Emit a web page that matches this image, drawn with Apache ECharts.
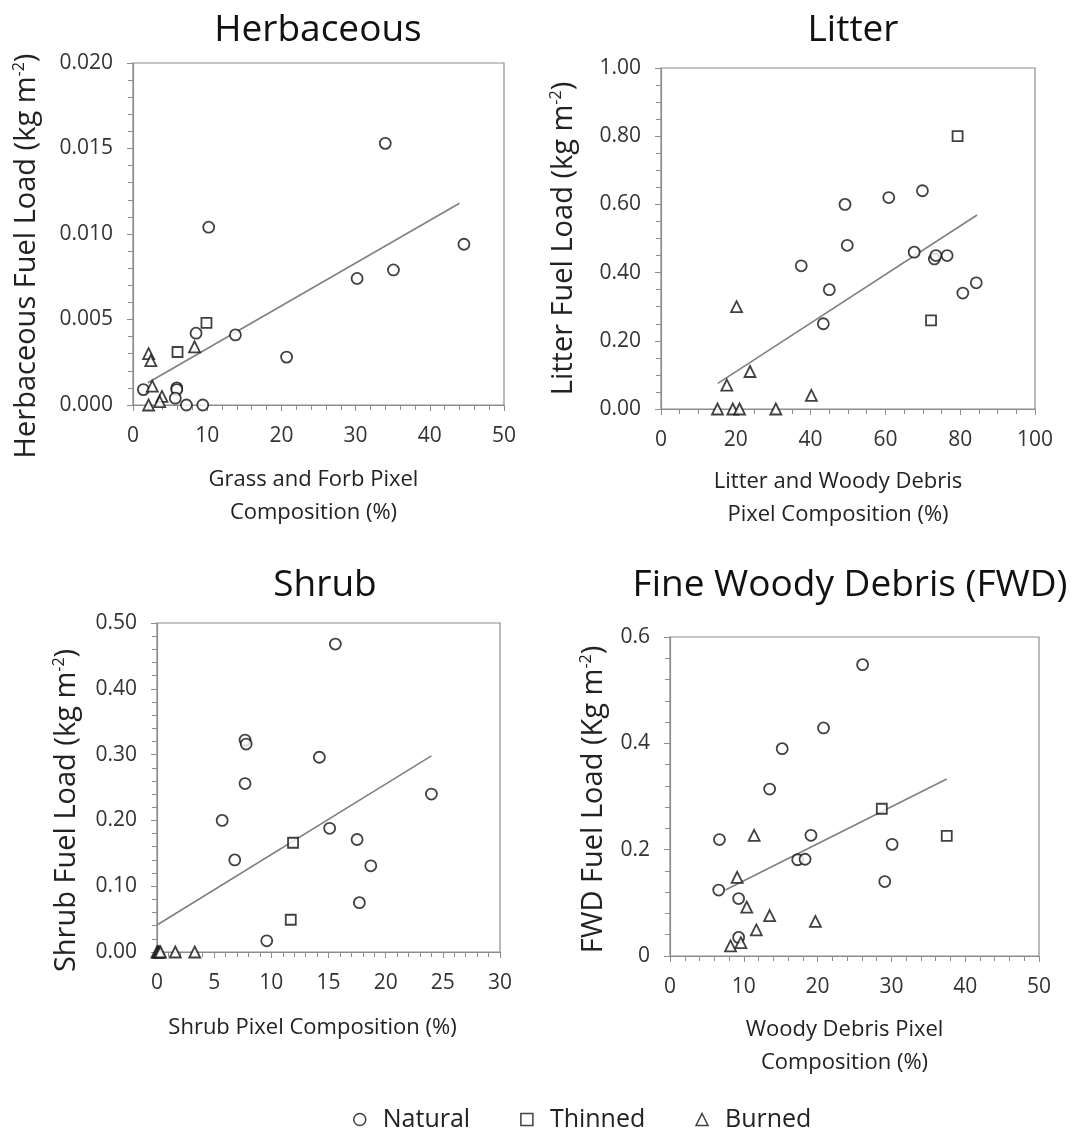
<!DOCTYPE html>
<html>
<head>
<meta charset="utf-8">
<script src="https://cdn.jsdelivr.net/npm/echarts@6/dist/echarts.min.js"></script>
<style>
  html, body { margin: 0; padding: 0; background: #fff; }
  #main { width: 1072px; height: 1133px; }
</style>
</head>
<body>
<div id="main"></div>
<script>
// Herbaceous panel
var herbNatural = [[34.0, 0.0153], [10.2, 0.0104], [44.6, 0.0094], [30.2, 0.0074], [35.1, 0.0079],
  [8.5, 0.0042], [13.8, 0.0041], [20.7, 0.0028], [1.4, 0.0009], [5.9, 0.0010], [5.9, 0.0009],
  [5.7, 0.0004], [7.2, 0], [9.4, 0]]
var herbThinned = [[9.9, 0.0048], [6.0, 0.0031]]
var herbBurned = [[2.1, 0.0030], [2.4, 0.0026], [8.3, 0.0034], [2.6, 0.0011], [2.1, 0], [3.9, 0.0005], [3.6, 0.0002]]
var herbTrend = [[2.0, 0.0013], [44.0, 0.0118]]

// Litter panel
var litterNatural = [[69.9, 0.64], [60.9, 0.62], [49.2, 0.60], [49.8, 0.48], [37.5, 0.42], [45.0, 0.35],
  [43.4, 0.25], [67.7, 0.46], [73.1, 0.44], [73.5, 0.45], [76.5, 0.45], [80.7, 0.34], [84.3, 0.37]]
var litterThinned = [[79.3, 0.80], [72.2, 0.26]]
var litterBurned = [[20.2, 0.30], [17.6, 0.07], [23.8, 0.11], [40.2, 0.04], [15.1, 0], [19.2, 0], [21.0, 0], [30.7, 0]]
var litterTrend = [[15.2, 0.075], [84.5, 0.569]]

// Shrub panel
var shrubNatural = [[15.6, 0.468], [7.7, 0.322], [7.8, 0.316], [14.2, 0.296], [7.7, 0.256], [5.7, 0.200],
  [24.0, 0.240], [15.1, 0.188], [17.5, 0.171], [6.8, 0.140], [18.7, 0.131], [17.7, 0.075], [9.6, 0.017]]
var shrubThinned = [[11.9, 0.166], [11.7, 0.049]]
var shrubBurned = [[0, 0], [0.1, 0], [0.2, 0], [0.3, 0], [1.6, 0], [3.3, 0]]
var shrubTrend = [[0, 0.041], [24.0, 0.298]]

// Fine woody debris panel
var fwdNatural = [[26.1, 0.548], [20.8, 0.429], [15.2, 0.390], [13.5, 0.314], [6.7, 0.219], [19.1, 0.227],
  [30.1, 0.210], [17.3, 0.181], [18.3, 0.182], [29.1, 0.140], [6.6, 0.124], [9.3, 0.108], [9.3, 0.035]]
var fwdThinned = [[28.7, 0.277], [37.5, 0.226]]
var fwdBurned = [[11.4, 0.227], [9.1, 0.148], [10.4, 0.092], [13.5, 0.076], [19.7, 0.065], [11.7, 0.049],
  [8.2, 0.019], [9.6, 0.025]]
var fwdTrend = [[7.5, 0.124], [37.5, 0.333]]

var groups = ['Natural', 'Thinned', 'Burned']
var titles = ['Herbaceous', 'Litter', 'Shrub', 'Fine Woody Debris (FWD)']

var font = 'Open Sans'
var gray = '#8c8c8c'
var ink = '#222'

var grids = [
  { left: 133, top: 63, width: 371, height: 342 },
  { left: 661, top: 68, width: 374, height: 341 },
  { left: 157, top: 623, width: 343, height: 329 },
  { left: 670, top: 637, width: 369, height: 319 }
]

function xAx(i, max, interval, split, name, gap, padR) {
  return {
    type: 'value', gridIndex: i, min: 0, max: max, interval: interval,
    name: name, nameLocation: 'middle', nameGap: gap,
    nameTextStyle: { fontFamily: font, fontSize: 22, color: ink, lineHeight: 33, padding: [0, padR, 0, 0] },
    axisLine: { lineStyle: { color: gray, width: 1.2 } },
    axisTick: { length: 6, lineStyle: { color: gray } },
    minorTick: { show: true, splitNumber: split, length: 5, lineStyle: { color: gray } },
    axisLabel: { fontFamily: font, fontSize: 21, color: '#333', margin: 21 },
    splitLine: { show: false }
  }
}

function yAx(i, max, interval, split, dec, name, gap, padR) {
  return {
    type: 'value', gridIndex: i, min: 0, max: max, interval: interval,
    name: name, nameLocation: 'middle', nameGap: gap,
    nameTextStyle: {
      fontFamily: font, fontSize: 29, color: ink, padding: [0, padR, 0, 0],
      rich: { sup: { fontFamily: font, fontSize: 16, color: ink, verticalAlign: 'top', lineHeight: 32 } }
    },
    axisLine: { lineStyle: { color: gray, width: 1.2 } },
    axisTick: { length: 6, lineStyle: { color: gray } },
    minorTick: { show: true, splitNumber: split, length: 5, lineStyle: { color: gray } },
    axisLabel: {
      fontFamily: font, fontSize: 21, color: '#333', margin: 20,
      formatter: function (v) { return dec < 0 ? String(+v.toFixed(1)) : v.toFixed(dec) }
    },
    splitLine: { show: false }
  }
}

var marker = { color: '#fff', borderColor: '#111', borderWidth: 1.8 }

function panel(i, nat, thin, burn, trend) {
  return [
    { name: groups[0], type: 'scatter', xAxisIndex: i, yAxisIndex: i, symbol: 'circle', symbolSize: 11, itemStyle: marker, data: nat, clip: false, z: 3 },
    { name: groups[1], type: 'scatter', xAxisIndex: i, yAxisIndex: i, symbol: 'rect', symbolSize: 10, itemStyle: marker, data: thin, clip: false, z: 3 },
    { name: groups[2], type: 'scatter', xAxisIndex: i, yAxisIndex: i, symbol: 'triangle', symbolSize: 11, itemStyle: marker, data: burn, clip: false, z: 3 },
    { type: 'line', xAxisIndex: i, yAxisIndex: i, data: trend, symbol: 'none', silent: true,
      lineStyle: { color: '#808080', width: 1.6 }, z: 2 }
  ]
}

var myChart = echarts.init(document.getElementById('main'))
myChart.setOption({
  animation: false,
  title: [
    { text: titles[0], left: 313, top: 7, textAlign: 'center' },
    { text: titles[1], left: 848, top: 7, textAlign: 'center' },
    { text: titles[2], left: 320, top: 562, textAlign: 'center' },
    { text: titles[3], left: 845, top: 562, textAlign: 'center' }
  ].map(function (t) {
    t.textStyle = { fontFamily: font, fontSize: 37, fontWeight: 'normal', color: '#111' }
    return t
  }),
  grid: grids.map(function (g) {
    return Object.assign({ show: true, borderColor: gray, borderWidth: 1.2, backgroundColor: 'transparent' }, g)
  }),
  xAxis: [
    xAx(0, 50, 10, 5, 'Grass and Forb Pixel\nComposition (%)', 58, 10),
    xAx(1, 100, 20, 4, 'Litter and Woody Debris\nPixel Composition (%)', 56, 20),
    xAx(2, 30, 5, 5, 'Shrub Pixel Composition (%)', 59, 32),
    xAx(3, 50, 10, 5, 'Woody Debris Pixel\nComposition (%)', 57, 20)
  ],
  yAxis: [
    yAx(0, 0.02, 0.005, 5, 3, 'Herbaceous Fuel Load (kg m{sup|-2})', 90, 44),
    yAx(1, 1, 0.2, 4, 2, 'Litter Fuel Load (kg m{sup|-2})', 81, 0),
    yAx(2, 0.5, 0.1, 5, 2, 'Shrub Fuel Load (kg m{sup|-2})', 74, 46),
    yAx(3, 0.6, 0.2, 5, -1, 'FWD Fuel Load (Kg m{sup|-2})', 60, 6)
  ],
  legend: {
    data: groups,
    left: 348, top: 1102,
    itemWidth: 12, itemHeight: 12, itemGap: 50,
    itemStyle: { color: '#fff', borderColor: '#111', borderWidth: 1.5 },
    textStyle: { fontFamily: font, fontSize: 25, color: ink, padding: [0, 0, 0, 12] }
  },
  series: [].concat(
    panel(0, herbNatural, herbThinned, herbBurned, herbTrend),
    panel(1, litterNatural, litterThinned, litterBurned, litterTrend),
    panel(2, shrubNatural, shrubThinned, shrubBurned, shrubTrend),
    panel(3, fwdNatural, fwdThinned, fwdBurned, fwdTrend)
  )
})
</script>
</body>
</html>
